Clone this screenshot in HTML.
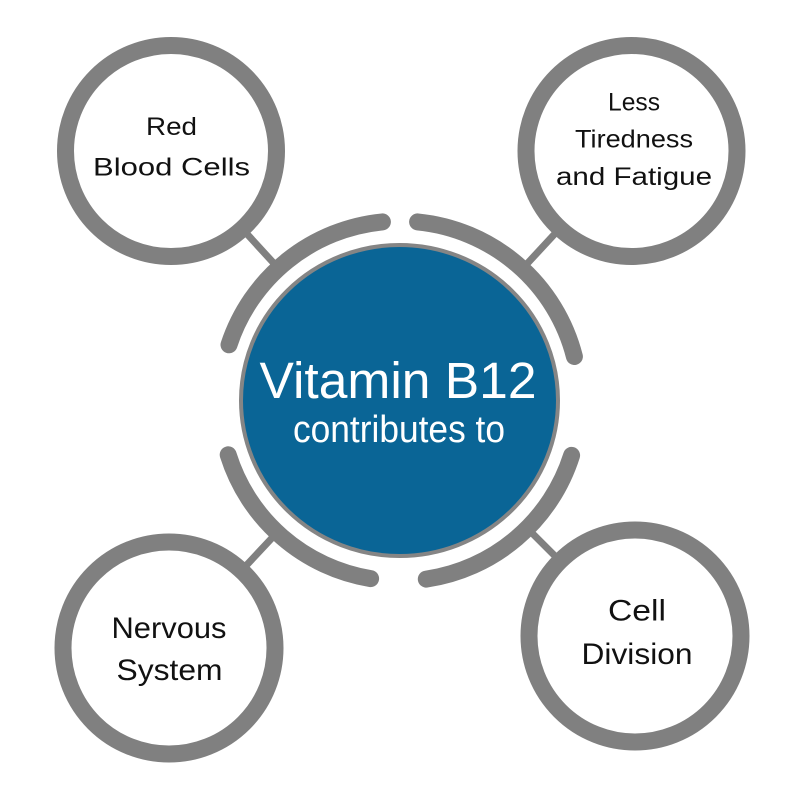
<!DOCTYPE html>
<html>
<head>
<meta charset="utf-8">
<style>
  html, body { margin: 0; padding: 0; background: #ffffff; }
  body { width: 800px; height: 800px; overflow: hidden; }
  svg { display: block; }
  .sat { font-family: "Liberation Sans", "DejaVu Sans", sans-serif; fill: #111111; }
  .ctr { font-family: "Liberation Sans", "DejaVu Sans", sans-serif; fill: #ffffff; }
</style>
</head>
<body>
<svg width="800" height="800" viewBox="0 0 800 800" xmlns="http://www.w3.org/2000/svg">
  <rect x="0" y="0" width="800" height="800" fill="#ffffff"/>

  <!-- connectors -->
  <g stroke="#808080" stroke-width="7" stroke-linecap="butt">
    <line x1="171" y1="151" x2="278.4" y2="268.3"/>
    <line x1="631.5" y1="151" x2="522.3" y2="268.9"/>
    <line x1="169" y1="648" x2="277.0" y2="532.6"/>
    <line x1="635" y1="636" x2="527.3" y2="528.3"/>
  </g>

  <!-- satellite circles -->
  <g fill="#ffffff" stroke="#808080" stroke-width="17">
    <circle cx="171" cy="151" r="105.5"/>
    <circle cx="631.5" cy="151" r="105.5"/>
    <circle cx="169" cy="648" r="106"/>
    <circle cx="635" cy="636" r="106"/>
  </g>

  <!-- outer arcs -->
  <g fill="none" stroke="#808080" stroke-width="17" stroke-linecap="round">
    <path d="M229.0,344.8 A180,180 0 0 1 382.4,221.9"/>
    <path d="M417.6,221.9 A180,180 0 0 1 574.4,356.5"/>
    <path d="M571.6,455.4 A180,180 0 0 1 426.3,579.1"/>
    <path d="M370.6,578.6 A180,180 0 0 1 228.2,454.8"/>
  </g>

  <!-- central circle -->
  <ellipse cx="399.5" cy="400.5" rx="158.5" ry="155.5" fill="#0a6596" stroke="#858585" stroke-width="4"/>

  <!-- center text -->
  <text class="ctr" x="398" y="398" font-size="51" text-anchor="middle" textLength="277" lengthAdjust="spacingAndGlyphs">Vitamin B12</text>
  <text class="ctr" x="399" y="442" font-size="38" text-anchor="middle" textLength="212" lengthAdjust="spacingAndGlyphs">contributes to</text>

  <!-- Red Blood Cells -->
  <text class="sat" x="171.5" y="135" font-size="25" text-anchor="middle" textLength="51" lengthAdjust="spacingAndGlyphs">Red</text>
  <text class="sat" x="171.5" y="175.5" font-size="25" text-anchor="middle" textLength="157" lengthAdjust="spacingAndGlyphs">Blood Cells</text>

  <!-- Less Tiredness and Fatigue -->
  <text class="sat" x="634" y="110.5" font-size="25" text-anchor="middle" textLength="52" lengthAdjust="spacingAndGlyphs">Less</text>
  <text class="sat" x="634" y="147.5" font-size="25" text-anchor="middle" textLength="118" lengthAdjust="spacingAndGlyphs">Tiredness</text>
  <text class="sat" x="634" y="185" font-size="25" text-anchor="middle" textLength="156" lengthAdjust="spacingAndGlyphs">and Fatigue</text>

  <!-- Nervous System -->
  <text class="sat" x="169" y="638" font-size="30" text-anchor="middle" textLength="115" lengthAdjust="spacingAndGlyphs">Nervous</text>
  <text class="sat" x="169.5" y="680" font-size="30" text-anchor="middle" textLength="106" lengthAdjust="spacingAndGlyphs">System</text>

  <!-- Cell Division -->
  <text class="sat" x="637" y="620.5" font-size="30" text-anchor="middle" textLength="58" lengthAdjust="spacingAndGlyphs">Cell</text>
  <text class="sat" x="637" y="664" font-size="30" text-anchor="middle" textLength="111" lengthAdjust="spacingAndGlyphs">Division</text>
</svg>
</body>
</html>
